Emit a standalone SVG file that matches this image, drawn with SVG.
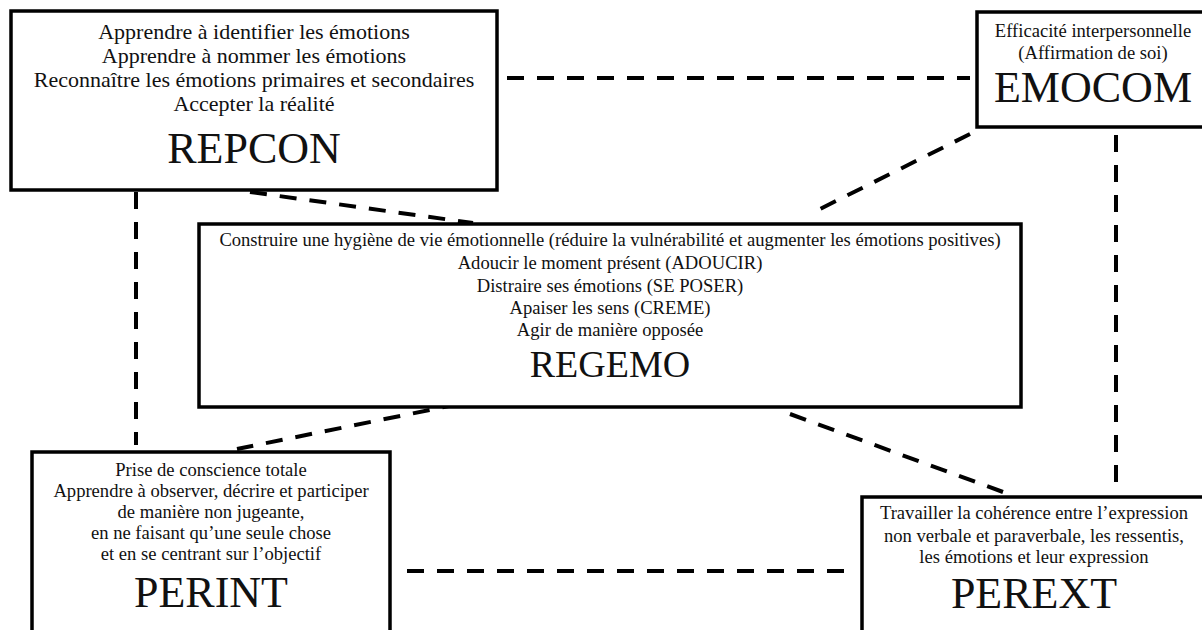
<svg xmlns="http://www.w3.org/2000/svg" width="1202" height="630" viewBox="0 0 1202 630">
<style>
.box{fill:#fff;stroke:#000;stroke-width:3.5}
.conn{stroke:#000;stroke-width:4;stroke-dasharray:17 13;fill:none}
text{font-family:"Liberation Serif","Times New Roman",serif;fill:#111;text-anchor:middle}
.s{font-size:18.6px}
.m{font-size:22px}
.t{font-size:44px}
</style>
<rect width="1202" height="630" fill="#fff"/>
<g id="connectors">
<line class="conn" x1="507" y1="78" x2="970" y2="78"/>
<line class="conn" x1="250" y1="192" x2="473" y2="223"/>
<line class="conn" x1="970" y1="134" x2="820" y2="209"/>
<line class="conn" x1="1116" y1="135" x2="1116" y2="492"/>
<line class="conn" x1="136" y1="192" x2="136" y2="445"/>
<line class="conn" x1="459" y1="404" x2="237" y2="449"/>
<line class="conn" x1="790" y1="414" x2="1003" y2="492"/>
<line class="conn" x1="407" y1="571" x2="857" y2="571"/>
</g>
<g id="REPCON">
<rect class="box" x="11" y="11" width="486" height="179"/>
<text class="m" x="254" y="39">Apprendre à identifier les émotions</text>
<text class="m" x="254" y="63">Apprendre à nommer les émotions</text>
<text class="m" x="254" y="87">Reconnaître les émotions primaires et secondaires</text>
<text class="m" x="254" y="111">Accepter la réalité</text>
<text class="t" x="254" y="163">REPCON</text>
</g>
<g id="EMOCOM">
<rect class="box" x="977" y="12" width="235" height="115"/>
<text class="s" x="1093" y="37">Efficacité interpersonnelle</text>
<text class="s" x="1093" y="59">(Affirmation de soi)</text>
<text class="t" x="1093" y="102">EMOCOM</text>
</g>
<g id="REGEMO">
<rect class="box" x="199" y="224" width="822" height="183"/>
<text class="s" x="610" y="246">Construire une hygiène de vie émotionnelle (réduire la vulnérabilité et augmenter les émotions positives)</text>
<text class="s" x="610" y="269">Adoucir le moment présent (ADOUCIR)</text>
<text class="s" x="610" y="292">Distraire ses émotions (SE POSER)</text>
<text class="s" x="610" y="314">Apaiser les sens (CREME)</text>
<text class="s" x="610" y="336">Agir de manière opposée</text>
<text x="610" y="377" style="font-size:38px">REGEMO</text>
</g>
<g id="PERINT">
<rect class="box" x="32" y="452" width="358" height="200"/>
<text class="s" x="211" y="476">Prise de conscience totale</text>
<text class="s" x="211" y="497">Apprendre à observer, décrire et participer</text>
<text class="s" x="211" y="518">de manière non jugeante,</text>
<text class="s" x="211" y="539">en ne faisant qu’une seule chose</text>
<text class="s" x="211" y="560">et en se centrant sur l’objectif</text>
<text class="t" x="211" y="607">PERINT</text>
</g>
<g id="PEREXT">
<rect class="box" x="862" y="497" width="360" height="200"/>
<text class="s" x="1034" y="519">Travailler la cohérence entre l’expression</text>
<text class="s" x="1034" y="542">non verbale et paraverbale, les ressentis,</text>
<text class="s" x="1034" y="563">les émotions et leur expression</text>
<text class="t" x="1034" y="608">PEREXT</text>
</g>
</svg>
